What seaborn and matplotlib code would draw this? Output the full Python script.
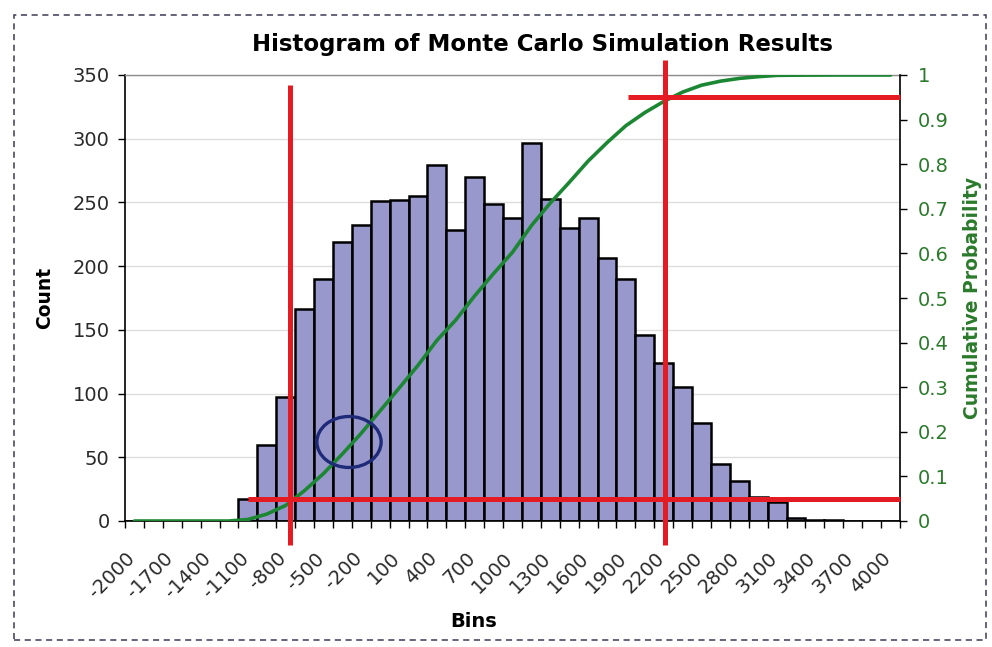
import numpy as np
import pandas as pd
import matplotlib
matplotlib.use("Agg")
import matplotlib.pyplot as plt
import seaborn as sns
from matplotlib.patches import Ellipse, Rectangle
from matplotlib.transforms import blended_transform_factory, ScaledTranslation

# Histogram bins (lower edge of each 150-wide bin) and simulated counts
bins = [-2000, -1850, -1700, -1550, -1400, -1250, -1100, -950, -800, -650,
        -500, -350, -200, -50, 100, 250, 400, 550, 700, 850,
        1000, 1150, 1300, 1450, 1600, 1750, 1900, 2050, 2200, 2350,
        2500, 2650, 2800, 2950, 3100, 3250, 3400, 3550, 3700, 3850, 4000]
counts = [0, 0, 0, 0, 0, 0, 17, 60, 97, 166,
          190, 219, 232, 251, 252, 255, 279, 228, 270, 249,
          238, 297, 253, 230, 238, 206, 190, 146, 124, 105,
          77, 45, 31, 19, 15, 2, 1, 1, 0, 0, 0]

# Axis tick labels (every other bin)
x_tick_labels = ["-2000", "-1700", "-1400", "-1100", "-800", "-500", "-200",
                 "100", "400", "700", "1000", "1300", "1600", "1900", "2200",
                 "2500", "2800", "3100", "3400", "3700", "4000"]
count_ticks = [0, 50, 100, 150, 200, 250, 300, 350]
prob_ticks = [0, 0.1, 0.2, 0.3, 0.4, 0.5, 0.6, 0.7, 0.8, 0.9, 1.0]
prob_tick_labels = ["0", "0.1", "0.2", "0.3", "0.4", "0.5", "0.6", "0.7", "0.8", "0.9", "1"]

# Marked percentile bounds (in bin units) and their probability levels
lower_bound, upper_bound = -765, 2210
lower_level, upper_level = 0.05, 0.95

df = pd.DataFrame({"bin": [str(b) for b in bins], "count": counts})
df["pos"] = np.arange(len(bins))
df["cum"] = np.cumsum(counts) / np.sum(counts)

BAR = "#9898cc"
GREEN = "#1c8733"
RED = "#e41b22"
NAVY = "#1f2a78"
TEXT = "#2a2a2a"
GREEN_TXT = "#2b7a2b"

sns.set_theme(style="white")
plt.rcParams["font.family"] = ["DejaVu Sans"]

fig = plt.figure(figsize=(9.92, 6.47), dpi=100)
W, H = 992, 647
ax = fig.add_axes([125 / W, 1 - 521 / H, 775 / W, 446 / H])

sns.barplot(data=df, x="bin", y="count", order=df["bin"], color=BAR,
            saturation=1, width=1.0, edgecolor="black", linewidth=1.8, ax=ax)

n = len(bins)
ax.set_xlim(-0.5, n - 0.5)
ax.set_ylim(0, 350)
ax.set_yticks(count_ticks)
ax.set_yticklabels([str(t) for t in count_ticks])
ax.grid(axis="y", color="#dedede", lw=1)
ax.set_axisbelow(True)

ax.set_xticks(np.arange(0, n, 2))
ax.set_xticklabels(x_tick_labels)
ax.set_xticks(np.arange(-0.5, n, 1), minor=True)
ax.tick_params(axis="x", which="major", length=0, pad=20, labelsize=14, colors=TEXT)
ax.tick_params(axis="x", which="minor", length=5, width=1, color="black", direction="out", bottom=True)
ax.tick_params(axis="y", which="major", length=5, width=1, color="black", direction="out",
               left=True, pad=6, labelsize=14, labelcolor=TEXT)
shift = ScaledTranslation(-9 / 100, 0, fig.dpi_scale_trans)
for lab in ax.get_xticklabels():
    lab.set_rotation(45)
    lab.set_ha("right")
    lab.set_va("top")
    lab.set_rotation_mode("anchor")
    lab.set_transform(lab.get_transform() + shift)

for side in ("left", "bottom"):
    ax.spines[side].set_color("black")
    ax.spines[side].set_linewidth(1.2)
ax.spines["top"].set_color("#8c8c8c")
ax.spines["top"].set_linewidth(1.0)
ax.spines["right"].set_visible(False)

ax.set_xlabel("Bins", fontsize=14, fontweight="bold", color="black")
ax.xaxis.set_label_coords((474 - 125) / 775, (521 - 612) / 446)
ax.set_ylabel("Count", fontsize=13.5, fontweight="bold", color="black")
ax.yaxis.set_label_coords((54 - 125) / 775, 0.5)

# Cumulative probability on a secondary axis
ax2 = ax.twinx()
sns.lineplot(data=df, x="pos", y="cum", color=GREEN, lw=2.6, ax=ax2, zorder=3)
ax2.set_ylim(0, 1)
ax2.set_xlim(-0.5, n - 0.5)
ax2.set_yticks(prob_ticks)
ax2.set_yticklabels(prob_tick_labels)
ax2.tick_params(axis="y", which="major", length=5, width=1, color="black", direction="out",
                right=True, pad=8, labelsize=14, labelcolor=GREEN_TXT)
ax2.grid(False)
for side in ("top", "left", "bottom"):
    ax2.spines[side].set_visible(False)
ax2.spines["right"].set_color("black")
ax2.spines["right"].set_linewidth(1.2)
ax2.set_xlabel("")
ax2.set_ylabel("Cumulative Probability", fontsize=13.5, fontweight="bold", color=GREEN_TXT,
               rotation=90)
ax2.yaxis.set_label_coords((963 - 125) / 775, 0.5)

# Percentile marker lines
to_pos = lambda v: (v - bins[0]) / (bins[1] - bins[0])
trans = blended_transform_factory(ax2.transData, ax2.transAxes)
ax2.plot([to_pos(lower_bound)] * 2, [(521 - 85) / 446, -(545 - 521) / 446], color=RED, lw=3.6,
         transform=trans, clip_on=False, zorder=5, solid_capstyle="butt")
ax2.plot([to_pos(upper_bound)] * 2, [(521 - 60) / 446, -(545 - 521) / 446], color=RED, lw=3.6,
         transform=trans, clip_on=False, zorder=5, solid_capstyle="butt")
ax2.plot([6.0, n - 0.5], [lower_level] * 2, color=RED, lw=3.6, zorder=5,
         clip_on=False, solid_capstyle="butt")
ax2.plot([26.1, n - 0.5], [upper_level] * 2, color=RED, lw=3.6, zorder=5,
         clip_on=False, solid_capstyle="butt")

# Highlight ellipse around the early part of the curve
ax2.add_patch(Ellipse((11.35, 62), 3.4, 40, transform=ax.transData, fill=False,
                      edgecolor=NAVY, lw=2.4, zorder=6))

fig.text(542 / W, 1 - 45 / H, "Histogram of Monte Carlo Simulation Results",
         ha="center", va="center", fontsize=16.5, fontweight="bold", color="black")

# Dashed frame around the chart area
fig.patches.append(Rectangle((14 / W, 1 - 640 / H), (986 - 14) / W, (640 - 15) / H,
                             transform=fig.transFigure, fill=False, edgecolor="#3a3a55",
                             lw=1.1, linestyle=(0, (4, 3))))

fig.savefig("out.png", dpi=100)
